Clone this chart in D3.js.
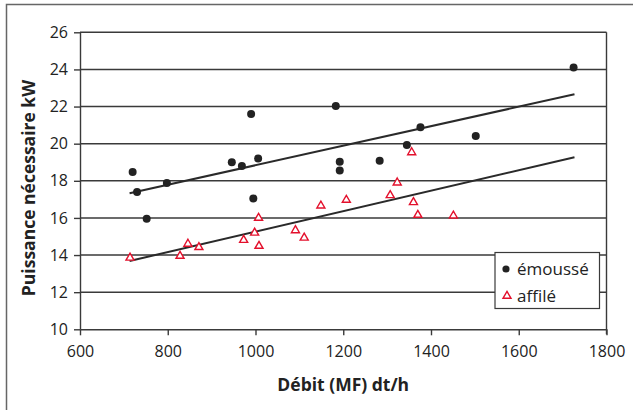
<!DOCTYPE html>
<html>
<head>
<meta charset="utf-8">
<script src="https://cdn.jsdelivr.net/npm/d3@7"></script>
<style>
  body { margin: 0; background: #fff; }
  svg { display: block; font-family: "Open Sans", sans-serif; }
  .grid line { stroke: #3a3a3a; stroke-width: 1.4; }
  .axis path, .axis line { stroke: #3a3a3a; stroke-width: 1.4; }
  .axis text { fill: #222; font-size: 16px; font-family: "Open Sans", sans-serif; }
  .title { font-weight: bold; font-size: 17.5px; fill: #222; }
</style>
</head>
<body>
<script>
(function(){

//data
var emousseX = [720, 730, 752, 798, 946, 969, 990, 995, 1006, 1183, 1192, 1192, 1283, 1345, 1376, 1502, 1725];
var emousseY = [18.47, 17.4, 15.95, 17.88, 19.0, 18.8, 21.6, 17.05, 19.2, 22.03, 19.02, 18.55, 19.08, 19.93, 20.88, 20.42, 24.1];

var affileX = [714, 828, 846, 871, 973, 998, 1007, 1008, 1091, 1111, 1149, 1207, 1307, 1323, 1356, 1360, 1370, 1451];
var affileY = [13.85, 13.95, 14.6, 14.42, 14.81, 15.2, 16.0, 14.49, 15.33, 14.93, 16.66, 16.97, 17.22, 17.9, 19.53, 16.84, 16.16, 16.12];

//trend lines (start and end)
var trendEmousse = [[713, 17.33], [1727, 22.66]];
var trendAffile = [[713, 13.68], [1727, 19.27]];

var xTicks = [600, 800, 1000, 1200, 1400, 1600, 1800];
var yTicks = [10, 12, 14, 16, 18, 20, 22, 24, 26];
var seriesNames = ["émoussé", "affilé"];

var width = 633, height = 410;
var left = 80, right = 606.5, top = 32.3, bottom = 329.3;

var svg = d3.select("body").append("svg")
  .attr("width", width)
  .attr("height", height);

//outer frame (top and left only)
svg.append("path")
  .attr("d", "M6.5,410 V4.5 H633")
  .attr("fill", "none")
  .attr("stroke", "#666")
  .attr("stroke-width", 1.5);

var x = d3.scaleLinear().domain([600, 1800]).range([left, right]);
var y = d3.scaleLinear().domain([10, 26]).range([bottom, top]);

//horizontal gridlines
svg.append("g")
  .attr("class", "grid")
  .selectAll("line")
  .data(yTicks.slice(1))
  .enter()
  .append("line")
  .attr("x1", left).attr("x2", right)
  .attr("y1", function(d){ return y(d); })
  .attr("y2", function(d){ return y(d); });

//right border of the plot
svg.append("line")
  .attr("x1", right).attr("x2", right)
  .attr("y1", top).attr("y2", bottom + 5)
  .attr("stroke", "#3a3a3a")
  .attr("stroke-width", 1.4);

var xAxis = svg.append("g")
  .attr("class", "axis")
  .attr("transform", "translate(0," + bottom + ")")
  .call(d3.axisBottom(x).tickValues(xTicks).tickFormat(d3.format("d"))
    .tickSize(6).tickSizeOuter(0).tickPadding(10));

var yAxis = svg.append("g")
  .attr("class", "axis")
  .attr("transform", "translate(" + left + ",0)")
  .call(d3.axisLeft(y).tickValues(yTicks).tickFormat(d3.format("d"))
    .tickSize(6).tickSizeOuter(0).tickPadding(6));

//trend lines
var line = d3.line()
  .x(function(d){ return x(d[0]); })
  .y(function(d){ return y(d[1]); });

[trendEmousse, trendAffile].forEach(function(t){
  svg.append("path")
    .datum(t)
    .attr("d", line)
    .attr("fill", "none")
    .attr("stroke", "#2a2a2a")
    .attr("stroke-width", 2);
});

//points
svg.append("g")
  .selectAll("circle")
  .data(d3.range(emousseX.length))
  .enter()
  .append("circle")
  .attr("cx", function(i){ return x(emousseX[i]); })
  .attr("cy", function(i){ return y(emousseY[i]); })
  .attr("r", 4)
  .attr("fill", "#222");

var tri = d3.symbol().type(d3.symbolTriangle).size(28);

svg.append("g")
  .selectAll("path")
  .data(d3.range(affileX.length))
  .enter()
  .append("path")
  .attr("d", tri)
  .attr("transform", function(i){ return "translate(" + x(affileX[i]) + "," + y(affileY[i]) + ")"; })
  .attr("fill", "#fff")
  .attr("stroke", "#e3102c")
  .attr("stroke-width", 1.4);

//legend
var legend = svg.append("g").attr("transform", "translate(495,252.5)");
legend.append("rect")
  .attr("width", 104.5).attr("height", 56)
  .attr("fill", "#fff")
  .attr("stroke", "#3a3a3a")
  .attr("stroke-width", 1.2);
legend.append("circle")
  .attr("cx", 11).attr("cy", 16.5).attr("r", 3.6)
  .attr("fill", "#222");
legend.append("path")
  .attr("d", tri)
  .attr("transform", "translate(12,43.5)")
  .attr("fill", "#fff")
  .attr("stroke", "#e3102c")
  .attr("stroke-width", 1.4);
legend.selectAll("text")
  .data(seriesNames)
  .enter()
  .append("text")
  .attr("x", 22)
  .attr("y", function(d, i){ return 22 + i * 27; })
  .attr("font-size", "17px")
  .attr("fill", "#222")
  .text(function(d){ return d; });

//axis titles
svg.append("text")
  .attr("class", "title")
  .attr("x", (left + right) / 2)
  .attr("y", 391)
  .attr("text-anchor", "middle")
  .text("Débit (MF) dt/h");

svg.append("text")
  .attr("class", "title")
  .attr("transform", "translate(35,188) rotate(-90)")
  .attr("text-anchor", "middle")
  .text("Puissance nécessaire kW");

})();
</script>
</body>
</html>
